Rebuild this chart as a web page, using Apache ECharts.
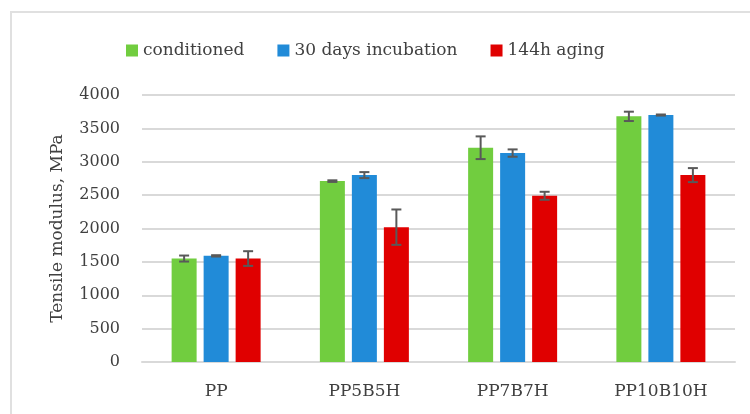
<!DOCTYPE html>
<html><head><meta charset="utf-8">
<script src="https://cdn.jsdelivr.net/npm/echarts@6/dist/echarts.min.js"></script>
<style>html,body{margin:0;padding:0;background:#fff}#c{width:750px;height:414px}</style>
</head><body><div id="c"></div>
<script>
var categories = ['PP', 'PP5B5H', 'PP7B7H', 'PP10B10H'];
var seriesNames = ['conditioned', '30 days incubation', '144h aging'];
var conditioned = [1550, 2710, 3210, 3680];
var incubation = [1590, 2800, 3130, 3700];
var aging = [1550, 2020, 2490, 2800];
var conditionedErr = [45, 12, 170, 70];
var incubationErr = [10, 45, 55, 8];
var agingErr = [110, 265, 60, 105];
var yTicks = [0, 500, 1000, 1500, 2000, 2500, 3000, 3500, 4000];

var colors = ['#71CD3F', '#218BD8', '#E00000'];
var values = [conditioned, incubation, aging];
var errs = [conditionedErr, incubationErr, agingErr];
var barW = 25, gapPx = 7;
var font = 'DejaVu Serif';

var chart = echarts.init(document.getElementById('c'), null, {renderer: 'canvas'});

function errSeries(k) {
  var data = categories.map(function (c, i) { return [i, values[k][i], errs[k][i]]; });
  return {
    type: 'custom', name: seriesNames[k] + ' err', z: 10,
    data: data, silent: true,
    renderItem: function (params, api) {
      var i = api.value(0), v = api.value(1), e = api.value(2);
      var off = (k - 1) * (barW + gapPx);
      var top = api.coord([i, v + e]);
      var bot = api.coord([i, v - e]);
      var x = top[0] + off;
      var cap = 5;
      var st = {stroke: '#595959', lineWidth: 2};
      return {type: 'group', children: [
        {type: 'line', shape: {x1: x, y1: top[1], x2: x, y2: bot[1]}, style: st},
        {type: 'line', shape: {x1: x - cap, y1: top[1], x2: x + cap, y2: top[1]}, style: st},
        {type: 'line', shape: {x1: x - cap, y1: bot[1], x2: x + cap, y2: bot[1]}, style: st}
      ]};
    }
  };
}

var series = [];
for (var k = 0; k < 3; k++) {
  series.push({
    type: 'bar', name: seriesNames[k], data: values[k],
    barWidth: barW, barGap: (gapPx / barW * 100) + '%',
    itemStyle: {color: colors[k]}
  });
}
for (var k2 = 0; k2 < 3; k2++) series.push(errSeries(k2));

chart.setOption({
  animation: false,
  backgroundColor: '#fff',
  color: colors,
  graphic: [{type: 'rect', shape: {x: 11, y: 12, width: 800, height: 500},
    style: {fill: 'none', stroke: '#e0e0e0', lineWidth: 2}, z: -1}],
  legend: {
    data: seriesNames, left: 121, top: 37,
    itemWidth: 12, itemHeight: 12, itemGap: 33,
    icon: 'rect',
    textStyle: {fontFamily: font, fontSize: 17, color: '#404040'}
  },
  grid: {left: 142, right: 15, top: 95, bottom: 52, containLabel: false},
  xAxis: {
    type: 'category', data: categories,
    axisLine: {lineStyle: {color: '#d9d9d9', width: 2}},
    axisTick: {show: false},
    axisLabel: {fontFamily: font, fontSize: 17, color: '#404040', margin: 21}
  },
  yAxis: {
    type: 'value', min: yTicks[0], max: yTicks[yTicks.length - 1], interval: 500,
    name: 'Tensile modulus, MPa', nameLocation: 'middle', nameGap: 76, nameRotate: 90,
    nameTextStyle: {fontFamily: font, fontSize: 17, color: '#404040'},
    axisLine: {show: false}, axisTick: {show: false},
    axisLabel: {fontFamily: font, fontSize: 16, color: '#404040', margin: 22,
      formatter: function (v) { return String(v); }},
    splitLine: {lineStyle: {color: '#d9d9d9', width: 2}}
  },
  series: series
});
</script></body></html>
